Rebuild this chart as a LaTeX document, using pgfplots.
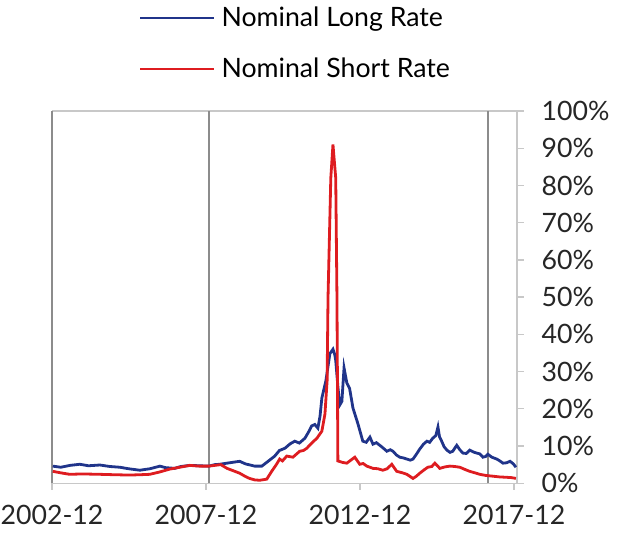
\documentclass[border=0pt]{standalone}
\usepackage{fontspec}
\setmainfont{Lato}
\usepackage{pgfplots}
\pgfplotsset{compat=1.18}
\definecolor{longblue}{RGB}{32,52,138}
\definecolor{shortred}{RGB}{222,28,32}
\definecolor{framegray}{RGB}{200,200,200}
\definecolor{vlinegray}{RGB}{140,140,140}
\begin{document}
\begin{tikzpicture}[x=1pt,y=1pt]
\begin{axis}[
  scale only axis,
  width=348.5pt, height=279pt,
  xmin=2002.917, xmax=2018.015,
  ymin=0, ymax=100,
  axis y line*=right,
  axis line style={framegray, line width=1pt},
  every outer x axis line/.append style={-},
  every outer y axis line/.append style={-},
  axis x line*=bottom,
  xtick={2002.917,2007.917,2012.917,2017.917},
  xticklabels={2002-12,2007-12,2012-12,2017-12},
  ytick={0,10,20,30,40,50,60,70,80,90,100},
  yticklabels={0\%,10\%,20\%,30\%,40\%,50\%,60\%,70\%,80\%,90\%,100\%},
  tick align=outside,
  major tick length=5pt,
  tick style={framegray, line width=1pt},
  ticklabel style={font=\fontsize{20}{22}\selectfont, text=black!85},
  yticklabel style={anchor=west, xshift=10pt},
  xticklabel style={yshift=-8pt},
  legend style={draw=none, fill=none, at={(0.186,1.287)}, anchor=north west,
    font=\fontsize{20}{22}\selectfont, row sep=18pt, inner sep=0pt},
  legend cell align=left,
  legend image code/.code={\draw[#1] (0pt,0pt) -- (55pt,0pt); \path (58pt,0pt);},
  clip=false,
]
% frame (top)
\addplot[framegray, line width=1pt, forget plot] coordinates {(2002.917,100) (2018.015,100)};
% vertical markers
\addplot[vlinegray, line width=1.5pt, forget plot] coordinates {(2002.93,0) (2002.93,100)};
\addplot[vlinegray, line width=1.5pt, forget plot] coordinates {(2008.0,0) (2008.0,100)};
\addplot[vlinegray, line width=1.5pt, forget plot] coordinates {(2017.07,0) (2017.07,100)};

\addplot[longblue, line width=2.1pt] coordinates {
(2002.94,4.6) (2003.2,4.3) (2003.5,4.8) (2003.82,5.1) (2004.1,4.7) (2004.47,4.9) (2004.8,4.5)
(2005.12,4.3) (2005.4,3.9) (2005.77,3.5) (2006.1,3.9) (2006.42,4.6) (2006.6,4.2) (2006.9,4.0)
(2007.1,4.5) (2007.39,4.8) (2007.7,4.7) (2008.01,4.6) (2008.2,5.0) (2008.36,5.1) (2008.6,5.4)
(2009.01,5.9) (2009.2,5.2) (2009.5,4.6) (2009.73,4.6) (2009.95,6.0) (2010.15,7.3) (2010.3,8.8)
(2010.48,9.4) (2010.65,10.6) (2010.8,11.3) (2010.95,10.8) (2011.13,12.1) (2011.25,13.8)
(2011.35,15.4) (2011.45,15.8) (2011.55,14.8) (2011.62,18.0) (2011.68,22.9) (2011.81,27.5)
(2011.94,34.8) (2012.04,36.0) (2012.1,34.5) (2012.13,33.0) (2012.2,26.0) (2012.26,21.0)
(2012.33,22.0) (2012.4,31.0) (2012.49,27.0) (2012.58,25.5) (2012.69,20.2) (2012.85,16.0)
(2013.01,11.3) (2013.12,11.0) (2013.24,12.4) (2013.34,10.5) (2013.45,10.9) (2013.56,10.2)
(2013.68,9.4) (2013.79,8.6) (2013.9,9.0) (2013.99,8.6) (2014.1,7.6) (2014.21,7.0) (2014.33,6.8)
(2014.44,6.5) (2014.55,6.2) (2014.64,6.5) (2014.75,7.8) (2014.86,9.2) (2014.98,10.5)
(2015.09,11.3) (2015.18,11.0) (2015.28,12.1) (2015.38,12.8) (2015.45,15.1) (2015.5,12.5)
(2015.57,11.3) (2015.65,9.8) (2015.74,8.9) (2015.84,8.3) (2015.93,8.6) (2016.06,10.2)
(2016.16,9.0) (2016.26,8.1) (2016.37,8.0) (2016.48,8.9) (2016.6,8.4) (2016.71,8.1)
(2016.81,7.9) (2016.91,7.0) (2017.0,7.2) (2017.07,7.8) (2017.2,7.0) (2017.36,6.5)
(2017.46,6.0) (2017.56,5.4) (2017.68,5.5) (2017.79,5.9) (2017.9,5.2) (2017.98,4.3)
};
\addlegendentry{Nominal Long Rate}

\addplot[shortred, line width=2.1pt] coordinates {
(2002.94,3.2) (2003.2,2.8) (2003.49,2.4) (2003.9,2.5) (2004.47,2.4) (2004.9,2.3)
(2005.44,2.2) (2005.8,2.3) (2006.09,2.4) (2006.4,3.0) (2006.74,3.8) (2007.0,4.2)
(2007.39,4.8) (2007.7,4.6) (2008.01,4.6) (2008.2,4.8) (2008.4,5.0) (2008.6,4.0)
(2009.01,2.7) (2009.2,1.8) (2009.33,1.3) (2009.5,0.9) (2009.66,0.8) (2009.89,1.1)
(2010.05,3.2) (2010.2,5.0) (2010.31,6.5) (2010.4,6.0) (2010.54,7.3) (2010.74,7.0)
(2010.85,7.8) (2010.96,8.6) (2011.08,8.8) (2011.19,9.4) (2011.35,10.8) (2011.52,12.1)
(2011.68,14.0) (2011.78,18.6) (2011.85,27.5) (2011.88,50.0) (2011.97,82.0) (2012.04,91.0)
(2012.13,82.0) (2012.17,50.0) (2012.2,6.0) (2012.35,5.6) (2012.49,5.4) (2012.62,6.2)
(2012.75,7.0) (2012.91,5.1) (2013.02,5.3) (2013.14,4.6) (2013.34,4.0) (2013.5,3.9)
(2013.66,3.5) (2013.8,3.9) (2013.95,5.1) (2014.11,3.2) (2014.3,2.8) (2014.44,2.4)
(2014.64,1.3) (2014.75,1.9) (2014.86,2.7) (2015.0,3.6) (2015.12,4.3) (2015.25,4.5)
(2015.35,5.4) (2015.51,4.0) (2015.68,4.4) (2015.84,4.6) (2016.0,4.5) (2016.16,4.3)
(2016.3,3.8) (2016.48,3.2) (2016.65,2.8) (2016.81,2.4) (2017.0,2.1) (2017.23,1.9)
(2017.45,1.7) (2017.68,1.6) (2017.85,1.5) (2017.98,1.3)
};
\addlegendentry{Nominal Short Rate}

\coordinate (sw) at (rel axis cs:0,0);
\coordinate (ne) at (rel axis cs:1,1);
\end{axis}
\pgfresetboundingbox
\path ([shift={(-39pt,-40.5pt)}]sw) rectangle ([shift={(78pt,83.25pt)}]ne);
\end{tikzpicture}
\end{document}
